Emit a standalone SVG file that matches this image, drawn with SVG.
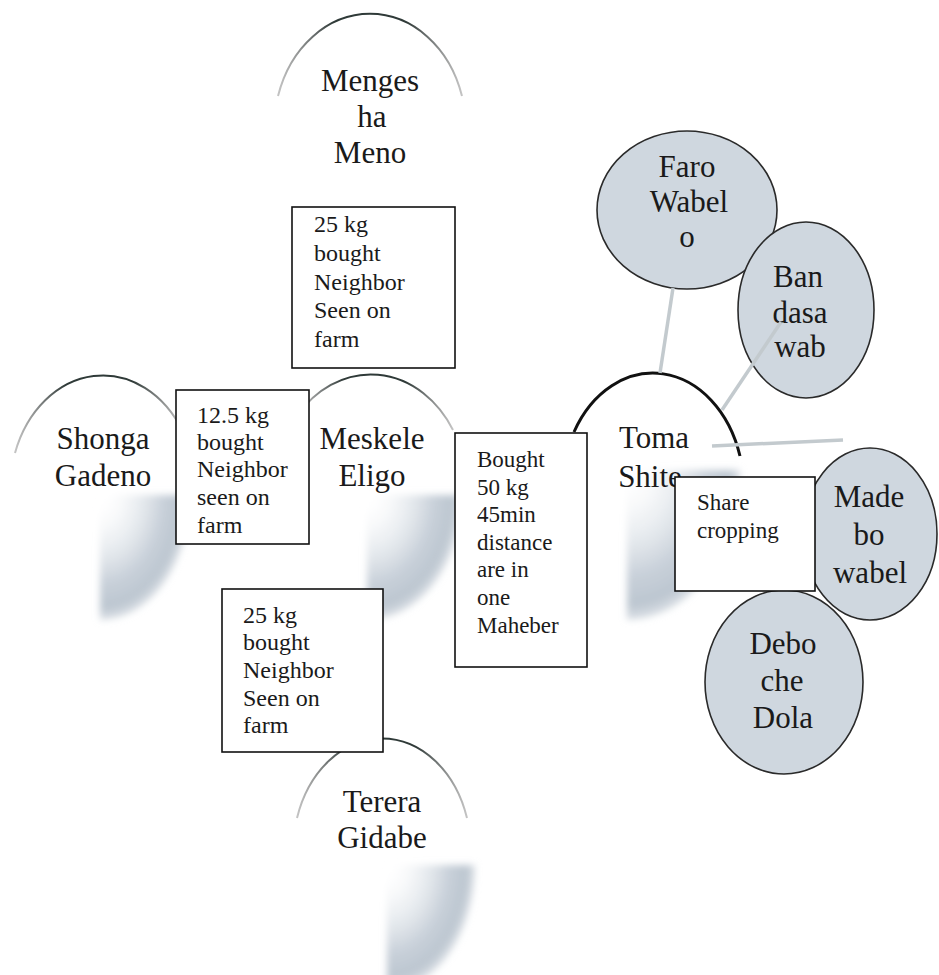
<svg xmlns="http://www.w3.org/2000/svg" width="939" height="975" viewBox="0 0 939 975">
<defs>
<linearGradient id="arcFade" x1="0" y1="0" x2="1" y2="0">
<stop offset="0" stop-color="#555" stop-opacity="0.35"/>
<stop offset="0.3" stop-color="#2f3a38" stop-opacity="1"/>
<stop offset="0.7" stop-color="#2f3a38" stop-opacity="1"/>
<stop offset="1" stop-color="#555" stop-opacity="0.35"/>
</linearGradient>
<radialGradient id="shade" cx="0" cy="0" r="1" gradientUnits="objectBoundingBox">
<stop offset="0" stop-color="#ffffff" stop-opacity="0"/>
<stop offset="0.35" stop-color="#e6eaee" stop-opacity="0.6"/>
<stop offset="0.7" stop-color="#c9d1da"/>
<stop offset="0.9" stop-color="#bcc6d0"/>
<stop offset="1" stop-color="#ccd3db" stop-opacity="0.7"/>
</radialGradient>
<filter id="soft" x="-10%" y="-10%" width="120%" height="120%">
<feGaussianBlur stdDeviation="3.5"/>
</filter>
<style>
.nt{font-family:"Liberation Serif","Times New Roman",serif;font-size:31px;fill:#1a1a1a;text-anchor:middle}
.bt{font-family:"Liberation Serif","Times New Roman",serif;font-size:24px;fill:#1a1a1a}
.arc{fill:none;stroke:url(#arcFade);stroke-width:2}
.shd{fill:url(#shade);filter:url(#soft)}
.box{fill:#fff;stroke:#111;stroke-width:1.6}
.ell{fill:#cfd7df;stroke:#2a2a2a;stroke-width:1.6}
.con{stroke:#c3cace;stroke-width:3.5;fill:none;stroke-linecap:butt}
</style>
</defs>
<rect width="939" height="975" fill="#fff"/>

<g id="node-menges">
<path class="arc" d="M278,96 A96,115 0 0 1 462,96"/>
<text class="nt" x="370" y="91">Menges</text>
<text class="nt" x="372" y="127">ha</text>
<text class="nt" x="370" y="163">Meno</text>
</g>

<g id="node-shonga">
<path class="shd" d="M100,495 H190 A90,125 0 0 1 100,620 Z"/>
<path class="arc" d="M15,453 A93,115 0 0 1 183,432"/>
<text class="nt" x="103" y="449">Shonga</text>
<text class="nt" x="103" y="486">Gadeno</text>
</g>

<g id="node-meskele">
<path class="shd" d="M367,495 H462 A95,125 0 0 1 367,620 Z"/>
<path class="arc" d="M297,416 A96,115 0 0 1 453,430"/>
<text class="nt" x="372" y="449">Meskele</text>
<text class="nt" x="372" y="486">Eligo</text>
</g>

<g id="node-toma">
<path class="shd" d="M627,470 H740 A113,150 0 0 1 627,620 Z"/>
<path d="M574,432 A91,117 0 0 1 740,456" fill="none" stroke="#111" stroke-width="3"/>
<text class="nt" x="654" y="448">Toma</text>
<text class="nt" x="650" y="487">Shite</text>
</g>

<g id="node-terera">
<path class="shd" d="M387,865 H475 A88,125 0 0 1 387,990 Z"/>
<path class="arc" d="M297,818 A89,113 0 0 1 467,818"/>
<text class="nt" x="382" y="812">Terera</text>
<text class="nt" x="382" y="848">Gidabe</text>
</g>

<g id="label-menges-meskele">
<rect class="box" x="292" y="207" width="163" height="161"/>
<text class="bt" x="314" y="232">25 kg</text>
<text class="bt" x="314" y="261">bought</text>
<text class="bt" x="314" y="290">Neighbor</text>
<text class="bt" x="314" y="318">Seen on</text>
<text class="bt" x="314" y="347">farm</text>
</g>

<g id="label-shonga-meskele">
<rect class="box" x="176" y="390" width="133" height="154"/>
<text class="bt" x="197" y="423">12.5 kg</text>
<text class="bt" x="197" y="450">bought</text>
<text class="bt" x="197" y="477">Neighbor</text>
<text class="bt" x="197" y="505">seen on</text>
<text class="bt" x="197" y="533">farm</text>
</g>

<g id="label-meskele-terera">
<rect class="box" x="222" y="589" width="161" height="163"/>
<text class="bt" x="243" y="623">25 kg</text>
<text class="bt" x="243" y="650">bought</text>
<text class="bt" x="243" y="678">Neighbor</text>
<text class="bt" x="243" y="706">Seen on</text>
<text class="bt" x="243" y="733">farm</text>
</g>

<g id="label-meskele-toma">
<rect class="box" x="455" y="433" width="132" height="234"/>
<text class="bt" x="477" y="467" style="font-size:23px">Bought</text>
<text class="bt" x="477" y="495" style="font-size:23px">50 kg</text>
<text class="bt" x="477" y="522" style="font-size:23px">45min</text>
<text class="bt" x="477" y="550" style="font-size:23px">distance</text>
<text class="bt" x="477" y="577" style="font-size:23px">are in</text>
<text class="bt" x="477" y="605" style="font-size:23px">one</text>
<text class="bt" x="477" y="633" style="font-size:23px">Maheber</text>
</g>

<g id="node-faro">
<ellipse class="ell" cx="687" cy="210" rx="90" ry="79"/>
<text class="nt" x="687" y="177">Faro</text>
<text class="nt" x="689" y="212">Wabel</text>
<text class="nt" x="687" y="247">o</text>
</g>

<g id="node-bandasa">
<ellipse class="ell" cx="806" cy="310" rx="68" ry="88"/>
<text class="nt" x="798" y="287">Ban</text>
<text class="nt" x="800" y="323">dasa</text>
<text class="nt" x="800" y="357">wab</text>
</g>

<g id="node-madebo">
<ellipse class="ell" cx="870" cy="534" rx="67" ry="86"/>
<text class="nt" x="869" y="507">Made</text>
<text class="nt" x="869" y="545">bo</text>
<text class="nt" x="870" y="583">wabel</text>
</g>

<g id="node-debo">
<ellipse class="ell" cx="784" cy="682" rx="79" ry="92"/>
<text class="nt" x="783" y="654">Debo</text>
<text class="nt" x="782" y="691">che</text>
<text class="nt" x="783" y="728">Dola</text>
</g>

<g id="label-sharecropping">
<rect class="box" x="675" y="477" width="140" height="114"/>
<text class="bt" x="697" y="510" style="font-size:23px">Share</text>
<text class="bt" x="697" y="538" style="font-size:23px">cropping</text>
</g>

<g id="connectors">
<line class="con" x1="673" y1="288" x2="660" y2="373"/>
<line class="con" x1="781" y1="322" x2="722" y2="410"/>
<line class="con" x1="712" y1="446" x2="843" y2="440"/>
</g>
</svg>
